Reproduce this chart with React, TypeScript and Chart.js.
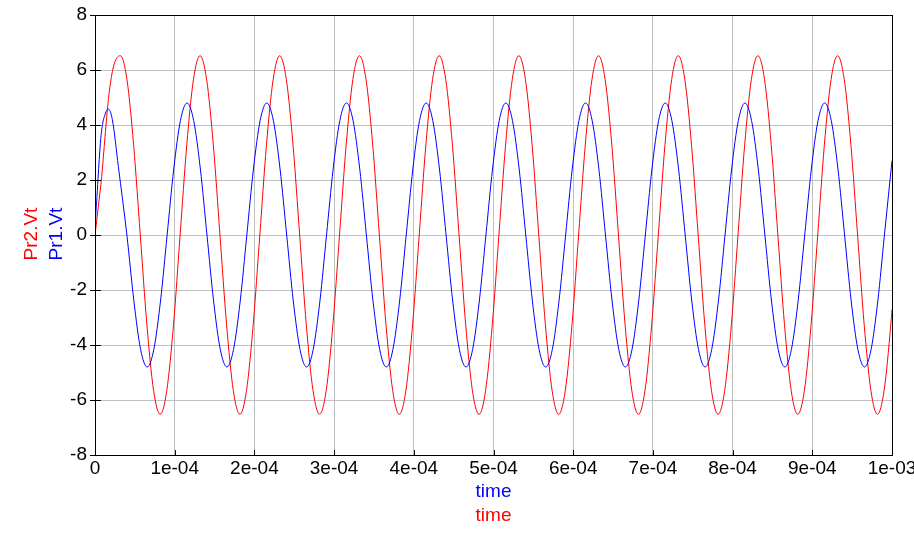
import React, { useEffect, useRef } from "react";
import { Chart, registerables } from "chart.js";

Chart.register(...registerables);

// time axis in units of 1e-04 s
const xTickLabels = ["0", "1e-04", "2e-04", "3e-04", "4e-04", "5e-04", "6e-04", "7e-04", "8e-04", "9e-04", "1e-03"];
const yTickValues = [-8, -6, -4, -2, 0, 2, 4, 6, 8];

const blueName = "Pr1.Vt";
const redName = "Pr2.Vt";
const xTitle = "time";

const blueTime = [
  0, 0.01, 0.025, 0.042, 0.071, 0.097, 0.118, 0.147, 0.168, 0.218, 0.293, 0.4, 0.488, 0.572, 0.655, 0.738, 0.822, 0.905, 0.988,
  1.072, 1.155, 1.238, 1.322, 1.405, 1.488, 1.572, 1.655, 1.738, 1.822, 1.905, 1.988,
  2.072, 2.155, 2.238, 2.322, 2.405, 2.488, 2.572, 2.655, 2.738, 2.822, 2.905, 2.988,
  3.072, 3.155, 3.238, 3.322, 3.405, 3.488, 3.572, 3.655, 3.738, 3.822, 3.905, 3.988,
  4.072, 4.155, 4.238, 4.322, 4.405, 4.488, 4.572, 4.655, 4.738, 4.822, 4.905, 4.988,
  5.072, 5.155, 5.238, 5.322, 5.405, 5.488, 5.572, 5.655, 5.738, 5.822, 5.905, 5.988,
  6.072, 6.155, 6.238, 6.322, 6.405, 6.488, 6.572, 6.655, 6.738, 6.822, 6.905, 6.988,
  7.072, 7.155, 7.238, 7.322, 7.405, 7.488, 7.572, 7.655, 7.738, 7.822, 7.905, 7.988,
  8.072, 8.155, 8.238, 8.322, 8.405, 8.488, 8.572, 8.655, 8.738, 8.822, 8.905, 8.988,
  9.072, 9.155, 9.238, 9.322, 9.405, 9.488, 9.572, 9.655, 9.738, 9.822, 9.905, 10,
];
const blueValue = [
  0, 0.75, 1.4, 2.25, 3.46, 4.07, 4.31, 4.53, 4.58, 4.19, 2.49, 0, -2.4, -4.16, -4.8, -4.16, -2.4, 0, 2.4,
  4.16, 4.8, 4.16, 2.4, 0, -2.4, -4.16, -4.8, -4.16, -2.4, 0, 2.4,
  4.16, 4.8, 4.16, 2.4, 0, -2.4, -4.16, -4.8, -4.16, -2.4, 0, 2.4,
  4.16, 4.8, 4.16, 2.4, 0, -2.4, -4.16, -4.8, -4.16, -2.4, 0, 2.4,
  4.16, 4.8, 4.16, 2.4, 0, -2.4, -4.16, -4.8, -4.16, -2.4, 0, 2.4,
  4.16, 4.8, 4.16, 2.4, 0, -2.4, -4.16, -4.8, -4.16, -2.4, 0, 2.4,
  4.16, 4.8, 4.16, 2.4, 0, -2.4, -4.16, -4.8, -4.16, -2.4, 0, 2.4,
  4.16, 4.8, 4.16, 2.4, 0, -2.4, -4.16, -4.8, -4.16, -2.4, 0, 2.4,
  4.16, 4.8, 4.16, 2.4, 0, -2.4, -4.16, -4.8, -4.16, -2.4, 0, 2.4,
  4.16, 4.8, 4.16, 2.4, 0, -2.4, -4.16, -4.8, -4.16, -2.4, 0, 2.7,
];

const redTime = [
  0, 0.042, 0.084, 0.126, 0.168, 0.21, 0.251, 0.318, 0.401, 0.485, 0.568, 0.651, 0.735, 0.818, 0.901, 0.985,
  1.068, 1.151, 1.235, 1.318, 1.401, 1.485, 1.568, 1.651, 1.735, 1.818, 1.901, 1.985,
  2.068, 2.151, 2.235, 2.318, 2.401, 2.485, 2.568, 2.651, 2.735, 2.818, 2.901, 2.985,
  3.068, 3.151, 3.235, 3.318, 3.401, 3.485, 3.568, 3.651, 3.735, 3.818, 3.901, 3.985,
  4.068, 4.151, 4.235, 4.318, 4.401, 4.485, 4.568, 4.651, 4.735, 4.818, 4.901, 4.985,
  5.068, 5.151, 5.235, 5.318, 5.401, 5.485, 5.568, 5.651, 5.735, 5.818, 5.901, 5.985,
  6.068, 6.151, 6.235, 6.318, 6.401, 6.485, 6.568, 6.651, 6.735, 6.818, 6.901, 6.985,
  7.068, 7.151, 7.235, 7.318, 7.401, 7.485, 7.568, 7.651, 7.735, 7.818, 7.901, 7.985,
  8.068, 8.151, 8.235, 8.318, 8.401, 8.485, 8.568, 8.651, 8.735, 8.818, 8.901, 8.985,
  9.068, 9.151, 9.235, 9.318, 9.401, 9.485, 9.568, 9.651, 9.735, 9.818, 9.901, 9.985,
  10,
];
const redValue = [
  0, 1.04, 2.13, 3.58, 4.92, 5.82, 6.31, 6.52, 5.65, 3.26, 0, -3.26, -5.65, -6.52, -5.65, -3.26,
  0, 3.26, 5.65, 6.52, 5.65, 3.26, 0, -3.26, -5.65, -6.52, -5.65, -3.26,
  0, 3.26, 5.65, 6.52, 5.65, 3.26, 0, -3.26, -5.65, -6.52, -5.65, -3.26,
  0, 3.26, 5.65, 6.52, 5.65, 3.26, 0, -3.26, -5.65, -6.52, -5.65, -3.26,
  0, 3.26, 5.65, 6.52, 5.65, 3.26, 0, -3.26, -5.65, -6.52, -5.65, -3.26,
  0, 3.26, 5.65, 6.52, 5.65, 3.26, 0, -3.26, -5.65, -6.52, -5.65, -3.26,
  0, 3.26, 5.65, 6.52, 5.65, 3.26, 0, -3.26, -5.65, -6.52, -5.65, -3.26,
  0, 3.26, 5.65, 6.52, 5.65, 3.26, 0, -3.26, -5.65, -6.52, -5.65, -3.26,
  0, 3.26, 5.65, 6.52, 5.65, 3.26, 0, -3.26, -5.65, -6.52, -5.65, -3.26,
  0, 3.26, 5.65, 6.52, 5.65, 3.26, 0, -3.26, -5.65, -6.52, -5.65, -3.26,
  -2.71,
];

const FONT = "'Liberation Sans', Arial, sans-serif";
const BLUE = "#0000ff";
const RED = "#ff0000";

const framePlugin = {
  id: "framePlugin",
  afterDatasetsDraw(chart: any) {
    const { ctx, chartArea } = chart;
    const { left, right, top, bottom } = chartArea;
    const xs = chart.scales.x;
    const ys = chart.scales.y;
    ctx.save();
    ctx.strokeStyle = "#000";
    ctx.lineWidth = 1;
    ctx.strokeRect(Math.round(left) + 0.5, Math.round(top) + 0.5, Math.round(right) - Math.round(left), Math.round(bottom) - Math.round(top));
    ctx.beginPath();
    yTickValues.forEach((v) => {
      const y = Math.round(ys.getPixelForValue(v)) + 0.5;
      ctx.moveTo(Math.round(left) - 5, y);
      ctx.lineTo(Math.round(left) + 6, y);
    });
    xTickLabels.forEach((_, i) => {
      const x = Math.round(xs.getPixelForValue(i)) + 0.5;
      ctx.moveTo(x, Math.round(bottom) - 5);
      ctx.lineTo(x, Math.round(bottom));
    });
    ctx.stroke();

    ctx.font = `19px ${FONT}`;
    ctx.textBaseline = "alphabetic";
    ctx.textAlign = "center";
    const cx = (left + right) / 2;
    ctx.fillStyle = BLUE;
    ctx.fillText(xTitle, cx, 497);
    ctx.fillStyle = RED;
    ctx.fillText(xTitle, cx, 521);

    const cy = 234;
    ctx.save();
    ctx.translate(37, cy);
    ctx.rotate(-Math.PI / 2);
    ctx.fillStyle = RED;
    ctx.fillText(redName, 0, 0);
    ctx.restore();
    ctx.save();
    ctx.translate(62, cy);
    ctx.rotate(-Math.PI / 2);
    ctx.fillStyle = BLUE;
    ctx.fillText(blueName, 0, 0);
    ctx.restore();
    ctx.restore();
  },
};

export default function App() {
  const ref = useRef<HTMLCanvasElement>(null);
  useEffect(() => {
    document.body.style.margin = "0";
    const canvas = ref.current;
    if (!canvas) return;
    const chart = new Chart(canvas, {
      type: "line",
      data: {
        datasets: [
          {
            label: blueName,
            data: blueTime.map((t, i) => ({ x: t, y: blueValue[i] })),
            borderColor: BLUE,
            borderWidth: 1,
            pointRadius: 0,
            fill: false,
            cubicInterpolationMode: "monotone",
          },
          {
            label: redName,
            data: redTime.map((t, i) => ({ x: t, y: redValue[i] })),
            borderColor: RED,
            borderWidth: 1,
            pointRadius: 0,
            fill: false,
            cubicInterpolationMode: "monotone",
          },
        ],
      },
      options: {
        animation: false,
        responsive: false,
        maintainAspectRatio: false,
        layout: { padding: { top: 15, right: 22, left: 0, bottom: 0 } },
        plugins: { legend: { display: false }, tooltip: { enabled: false } },
        scales: {
          x: {
            type: "linear",
            min: 0,
            max: 10,
            border: { display: false },
            grid: { color: "#c0c0c0", lineWidth: 1, drawTicks: false },
            ticks: {
              stepSize: 1,
              autoSkip: false,
              maxRotation: 0,
              padding: 2,
              color: "#000",
              font: { family: FONT, size: 19 },
              callback: (v: any) => xTickLabels[Math.round(Number(v))] ?? "",
            },
            afterFit: (s: any) => {
              s.height = 105;
              s.paddingLeft = 0;
              s.paddingRight = 0;
            },
          },
          y: {
            type: "linear",
            min: -8,
            max: 8,
            border: { display: false },
            grid: { color: "#c0c0c0", lineWidth: 1, drawTicks: false },
            ticks: {
              stepSize: 2,
              padding: 8,
              color: "#000",
              font: { family: FONT, size: 19 },
              callback: (v: any) => String(v),
            },
            afterFit: (s: any) => {
              s.width = 95;
              s.paddingTop = 0;
              s.paddingBottom = 0;
            },
          },
        },
      },
      plugins: [framePlugin],
    });
    return () => chart.destroy();
  }, []);
  return (
    <div style={{ position: "relative", width: 914, height: 560 }}>
      <canvas ref={ref} width={914} height={560} />
    </div>
  );
}
